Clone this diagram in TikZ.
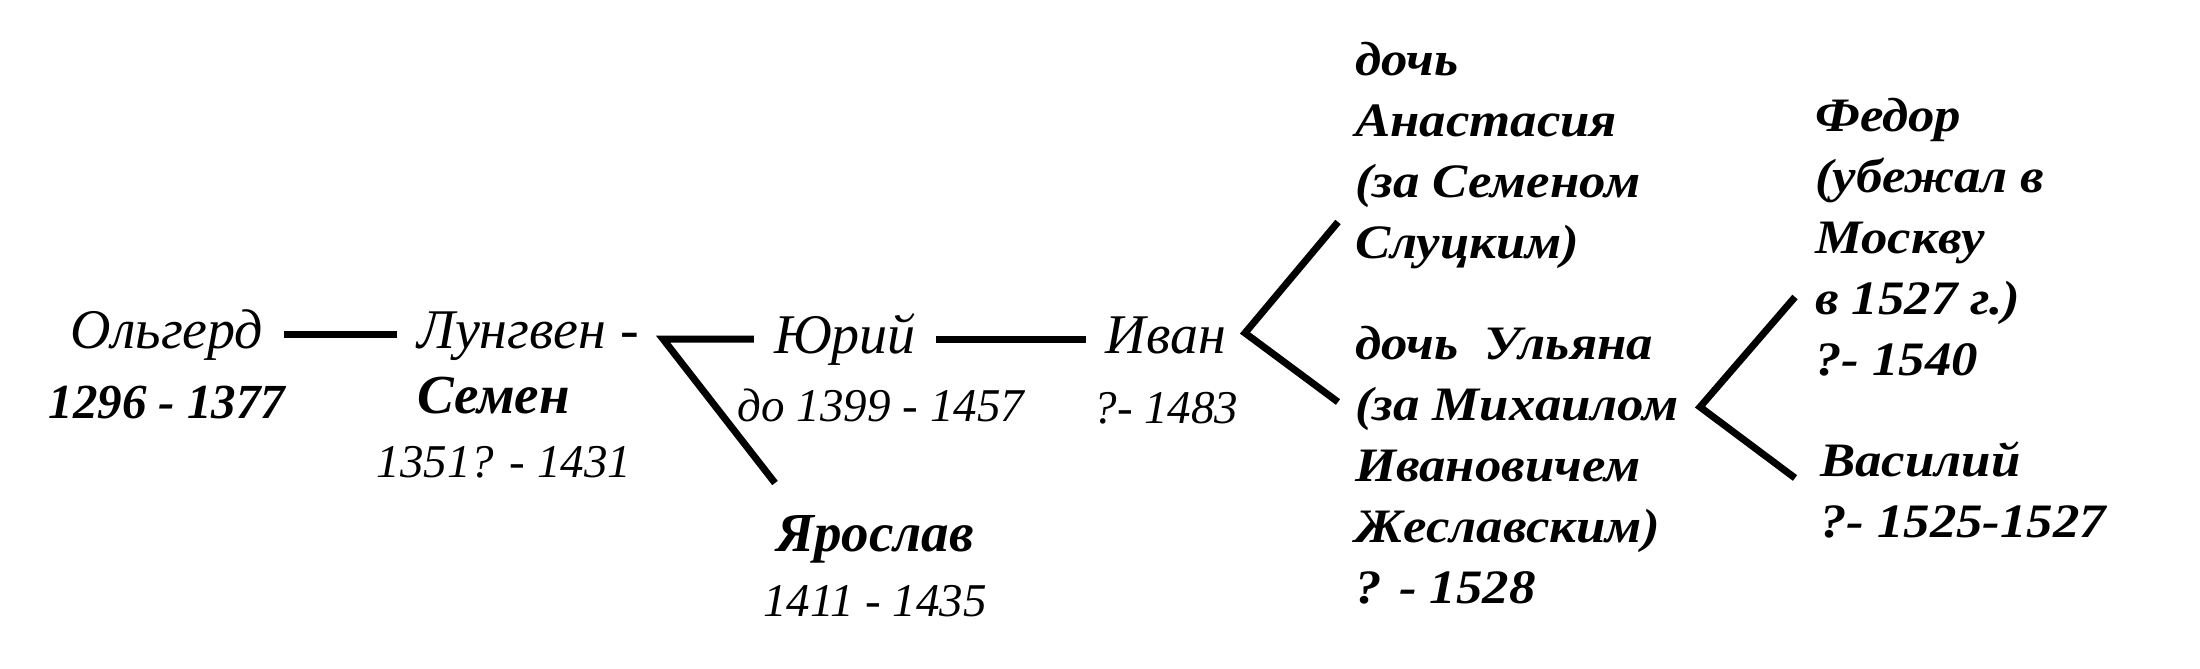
\documentclass[tikz,border=0pt]{standalone}
\usepackage{fontspec}
\setmainfont{Liberation Serif}
\newfontfamily\wideserif{Liberation Serif}[FakeStretch=1.1]
\usetikzlibrary{
  positioning, % for placing the years below the names
}
\tikzset{
  person/.style={ % style for each name in the tree
    font=\itshape\fontsize{56}{61}\selectfont,
    inner xsep=20pt, % room between the text and the connectors
    inner ysep=0pt,
    text height=36pt, text depth=8pt, % same height for every name
    anchor=base,
  },
  boldperson/.style={ % names set in the heavier face
    person,
    font=\bfseries\itshape\fontsize{55}{61}\selectfont,
  },
  years/.style={ % style for the life dates
    font=\itshape\fontsize{47}{61}\selectfont,
    inner sep=0pt,
    anchor=base,
  },
  boldyears/.style={ % life dates in the heavier face
    years,
    font=\bfseries\itshape\fontsize{49}{61}\selectfont,
  },
  note/.style={ % style for the blocks of the last generations
    font=\wideserif\bfseries\itshape\fontsize{48}{61}\selectfont,
    align=left,
    inner sep=0pt,
    anchor=base west, % base = baseline of the last line
  },
  link/.style={ % style for the connections
    line width=7pt,
    line join=miter,
  },
}
\begin{document}
\begin{tikzpicture}[x=1pt, y=-1pt]
	\useasboundingbox (0,0) rectangle (2200,669);
	
	\node (olg) [person] at (167,348) {Ольгерд};
	\node (olgyears) [boldyears] at ([yshift=-70pt]olg.base) {1296 - 1377};
	
	\node (lung) [person, anchor=base west] at (397,348) {Лунгвен -};
	\node (sem) [boldperson, anchor=base west] at ([yshift=-65pt]lung.base west) {Семен};
	\node (lungyears) [years] at (504,477) {1351? - 1431};
	
	\node (yuri) [person] at (845,353) {Юрий};
	\node (yuriyears) [years] at (881,421) {до 1399 - 1457};
	
	\node (ivan) [person] at (1166,353) {Иван};
	\node (ivanyears) [years] at (1166,423) {?- 1483};
	
	\node (yar) [boldperson] at (875,551) {Ярослав};
	\node (yaryears) [years] at ([yshift=-65pt]yar.base) {1411 - 1435};
	
	\node (dau1) [note] at (1355,258) {дочь\\Анастасия\\(за Семеном\\Слуцким)};
	\node (dau2) [note] at (1355,603) {дочь~~Ульяна\\(за Михаилом\\Ивановичем\\Жеславским)\\? - 1528};
	
	\node (fed) [note] at (1815,375) {Федор\\(убежал в\\Москву\\в 1527 г.)\\?- 1540};
	\node (vas) [note] at (1820,537) {Василий\\?- 1525-1527};
	
	\coordinate (j1) at (663,339);
	\coordinate (yarend) at (775,483);
	\coordinate (ivanfork) at (1245,333);
	\coordinate (dau1end) at (1338,222);
	\coordinate (dau2end) at (1338,402);
	\coordinate (dau2fork) at (1700,407);
	\coordinate (fedend) at (1795,297);
	\coordinate (vasend) at (1795,478);
	
	\draw [link] (olg) -- (lung);
	\draw [link] (yuri) -- (j1) -- (yarend);
	\draw [link] (yuri) -- (ivan);
	\draw [link] (dau1end) -- (ivanfork) -- (dau2end);
	\draw [link] (fedend) -- (dau2fork) -- (vasend);
\end{tikzpicture}
\end{document}
